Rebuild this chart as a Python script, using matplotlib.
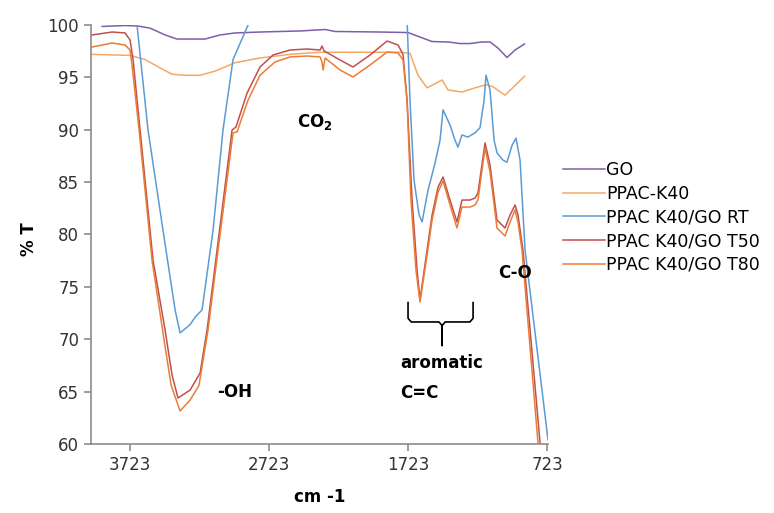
import numpy as np
import matplotlib
matplotlib.use('Agg')
import matplotlib.pyplot as plt

# wavenumber (cm-1) / %T
go_x = [3924, 3759, 3665, 3579, 3471, 3385, 3183, 3076, 2968, 2788, 2500, 2320, 2248, 1924,
        1723, 1637, 1550, 1435, 1349, 1277, 1191, 1133, 1076, 1011, 953, 885]
go_y = [99.86, 99.95, 99.9, 99.7, 99.05, 98.66, 98.66, 99.05, 99.24, 99.33, 99.43, 99.57, 99.38, 99.33,
        99.28, 98.85, 98.42, 98.38, 98.23, 98.23, 98.38, 98.38, 97.8, 96.9, 97.61, 98.19]

k40_x = [4004, 3723, 3615, 3507, 3421, 3327, 3219, 3111, 2968, 2788, 2572, 2356, 1781, 1709,
         1651, 1586, 1478, 1435, 1335, 1241, 1162, 1112, 1025, 885]
k40_y = [97.2, 97.1, 96.7, 95.9, 95.3, 95.2, 95.2, 95.6, 96.4, 96.85, 97.2, 97.4, 97.4, 97.3,
         95.2, 94.0, 94.75, 93.8, 93.6, 94.0, 94.3, 94.1, 93.3, 95.1]

rt_x = [3685, 3673, 3594, 3486, 3399, 3363, 3291, 3255, 3205, 3126, 3054, 2982, 2874, 2845,
        1745, 1730, 1709, 1680, 1644, 1622, 1579, 1529, 1493, 1471, 1421, 1385, 1364, 1335,
        1292, 1241, 1205, 1176, 1162, 1133, 1104, 1083, 1040, 1011, 975, 946, 917, 881, 716]
rt_y = [101.5, 100.0, 90.0, 80.4, 72.8, 70.6, 71.4, 72.1, 72.8, 80.4, 90.0, 96.7, 100.0, 101.9,
        101.9, 100.5, 92.8, 85.2, 81.9, 81.2, 84.25, 86.8, 89.0, 91.9, 90.45, 89.0, 88.35, 89.5,
        89.3, 89.7, 90.2, 92.8, 95.2, 93.8, 89.0, 87.8, 87.1, 86.9, 88.5, 89.2, 87.1, 78.5, 60.4]

t50_x = [3996, 3852, 3759, 3723, 3701, 3651, 3558, 3471, 3421, 3378, 3291, 3219, 3169, 3097,
         2989, 2961, 2881, 2788, 2694, 2572, 2450, 2356, 2342, 2327, 2212, 2119, 1996, 1874,
         1795, 1759, 1730, 1694, 1658, 1637, 1586, 1550, 1507, 1471, 1421, 1371, 1335, 1277,
         1241, 1220, 1169, 1133, 1083, 1025, 989, 953, 932, 896, 773, 752]
t50_y = [99.05, 99.33, 99.24, 98.57, 96.66, 89.98, 77.57, 70.88, 66.59, 64.39, 65.15, 66.78, 70.88, 78.52,
         89.98, 90.26, 93.51, 95.99, 97.14, 97.61, 97.71, 97.61, 98.0, 97.52, 96.66, 95.99, 97.14, 98.47,
         98.09, 97.2, 92.8, 83.29, 76.61, 73.75, 78.52, 81.86, 84.53, 85.49, 83.29, 81.19, 83.29, 83.29,
         83.48, 83.96, 88.74, 86.63, 81.38, 80.62, 81.86, 82.82, 81.86, 78.52, 60.1, 57.5]

t80_x = [3996, 3852, 3759, 3723, 3709, 3658, 3565, 3478, 3428, 3363, 3291, 3227, 3162, 3090,
         2982, 2953, 2874, 2788, 2680, 2572, 2450, 2356, 2342, 2334, 2320, 2212, 2119, 1996,
         1874, 1795, 1759, 1730, 1702, 1666, 1637, 1586, 1550, 1507, 1471, 1421, 1371, 1335,
         1277, 1241, 1220, 1169, 1133, 1083, 1025, 989, 953, 932, 903, 788, 766]
t80_y = [97.9, 98.28, 98.09, 97.61, 96.18, 89.98, 77.57, 69.9, 65.63, 63.15, 64.2, 65.6, 70.9, 78.5,
         89.7, 89.8, 92.84, 95.2, 96.47, 96.95, 97.04, 96.95, 96.47, 95.7, 96.85, 95.7, 95.04, 96.18,
         97.42, 97.33, 96.66, 92.84, 83.29, 76.61, 73.55, 78.04, 81.38, 84.06, 85.11, 82.82, 80.62, 82.62,
         82.62, 82.82, 83.29, 88.26, 85.97, 80.62, 79.86, 81.19, 82.34, 81.19, 78.52, 60.1, 57.5]

labels = ['GO', 'PPAC-K40', 'PPAC K40/GO RT', 'PPAC K40/GO T50', 'PPAC K40/GO T80']
colors = ['#7E5EA8', '#F4A865', '#5B9BD5', '#C0504D', '#EB7C35']
xticks = [3723, 2723, 1723, 723]
yticks = [60, 65, 70, 75, 80, 85, 90, 95, 100]

plt.rcParams['font.family'] = 'DejaVu Sans'
plt.rcParams['font.size'] = 12

fig = plt.figure(figsize=(7.74, 5.13), dpi=100)
ax = fig.add_axes([91 / 774, 1 - 444 / 513, 457 / 774, 419 / 513])

series = [(go_x, go_y), (k40_x, k40_y), (rt_x, rt_y), (t50_x, t50_y), (t80_x, t80_y)]
for (xs, ys), lab, c in zip(series, labels, colors):
    ax.plot(xs, ys, color=c, lw=1.1, label=lab)

ax.set_xlim(4004, 716)
ax.set_ylim(60, 100)
ax.set_xticks(xticks)
ax.set_yticks(yticks)
for s in ['top', 'right']:
    ax.spines[s].set_visible(False)
for s in ['left', 'bottom']:
    ax.spines[s].set_color('#8c8c8c')
    ax.spines[s].set_linewidth(1.2)
ax.tick_params(colors='#8c8c8c', length=5, width=1.2, labelcolor='#333333')

ax.set_ylabel('% T', fontweight='bold')
ax.yaxis.set_label_coords(-0.115, 0.49)
ax.set_xlabel('cm -1', fontweight='bold')
ax.xaxis.set_label_coords(0.5, -0.105)

# annotations
ax.text(2392, 90.7, r'CO$_\mathbf{2}$', fontweight='bold', ha='center', va='center')
ax.text(2968, 65.0, '-OH', fontweight='bold', ha='center', va='center')
ax.text(1781, 67.7, 'aromatic', fontweight='bold', ha='left', va='center')
ax.text(1781, 64.9, 'C=C', fontweight='bold', ha='left', va='center')
ax.text(953, 76.3, 'C-O', fontweight='bold', ha='center', va='center')

# curly brace under the aromatic band
bx = [1723, 1723, 1700, 1500, 1478, 1478, 1478, 1456, 1278, 1255, 1255]
by = [73.5, 72.0, 71.65, 71.65, 71.3, 69.4, 71.3, 71.65, 71.65, 72.0, 73.5]
ax.plot(bx, by, color='black', lw=1.2)

fig.legend(loc='upper left', bbox_to_anchor=(563 / 774, 1 - 161 / 513), frameon=False,
           fontsize=12.5, handlelength=2.4, handletextpad=0.1, labelspacing=0.33,
           borderpad=0, borderaxespad=0)

fig.savefig('out.png', dpi=100)
